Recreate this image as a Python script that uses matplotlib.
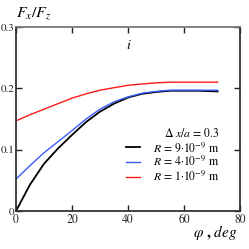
import numpy as np
from matplotlib import pyplot as plt

plt.rcParams['font.family'] = ['STIXGeneral', 'DejaVu Serif']
plt.rcParams['mathtext.fontset'] = 'stix'

phi = [0, 5, 10, 15, 20, 25, 30, 35, 40, 45, 50, 55, 60, 65, 72]
fx_r9 = [0.0, 0.043, 0.077, 0.102, 0.124, 0.145, 0.162, 0.175, 0.185,
         0.191, 0.194, 0.196, 0.196, 0.196, 0.195]
fx_r4 = [0.052, 0.074, 0.095, 0.113, 0.131, 0.150, 0.166, 0.178, 0.186,
         0.192, 0.195, 0.197, 0.197, 0.197, 0.197]
fx_r1 = [0.147, 0.157, 0.166, 0.175, 0.184, 0.191, 0.197, 0.201, 0.205,
         0.207, 0.209, 0.210, 0.210, 0.210, 0.210]

labels = [r'$R$ = 9·10$^{-9}$ m', r'$R$ = 4·10$^{-9}$ m', r'$R$ = 1·10$^{-9}$ m']
colors = ['black', '#3a5cff', '#ff1a1a']
xticks = [0, 20, 40, 60, 80]
yticks = [0, 0.1, 0.2, 0.3]
yticklabels = ['0', '0.1', '0.2', '0.3']


def main():
    fig = plt.figure(figsize=(2.49, 2.49), dpi=100)
    ax = fig.add_axes([16 / 249, 38 / 249, 224 / 249, 184 / 249])

    for y, c, lab in zip([fx_r9, fx_r4, fx_r1], colors, labels):
        ax.plot(phi, y, color=c, lw=1.3 if c == 'black' else 1.0, label=lab)

    ax.set_xlim(0, 80)
    ax.set_ylim(0, 0.3)
    ax.set_xticks(xticks)
    ax.set_yticks(yticks)
    ax.set_yticklabels(yticklabels)
    ax.tick_params(direction='in', length=4, width=1, top=True, right=True,
                   labelsize=8.5, pad=2, colors='#222222')
    ax.tick_params(axis='y', labelsize=8, pad=1)
    for s in ax.spines.values():
        s.set_linewidth(1.3)
        s.set_color('#333333')
    ax.spines['top'].set_color('#777777')

    leg = ax.legend(loc='upper left', bbox_to_anchor=(0.47, 0.48), frameon=False,
                    fontsize=8.5, title=r'$\Delta$ $x/a$ = 0.3', title_fontsize=8.5,
                    handlelength=1.2, handletextpad=1.1, labelspacing=0.05,
                    borderaxespad=0)
    leg._legend_box.align = 'right'

    ax.text(0.505, 0.9, r'$i$', transform=ax.transAxes, fontsize=10,
            ha='center', va='center')
    fig.text(16 / 249, 236 / 249, r'$F_x/F_z$', fontsize=11.5, ha='left', va='center')
    fig.text(238 / 249, 17 / 249, r'$\varphi$ , $deg$', fontsize=11,
             ha='right', va='center', weight='bold')

    fig.savefig('out.png', dpi=100)


if __name__ == "__main__":
    main()
